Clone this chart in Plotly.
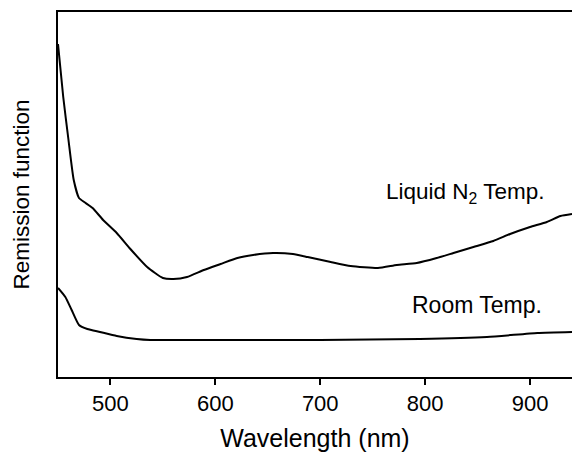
import plotly.graph_objects as go

# Wavelength grid (nm) and remission function (arbitrary units) for each sample
wl_ln2 = [450, 455, 460, 465, 470, 475, 483, 493, 506, 519, 535, 550, 560, 573,
          589, 605, 621, 636, 655, 674, 688, 710, 729, 755, 773, 792, 811, 827,
          846, 865, 881, 900, 916, 929, 940]
f_ln2 = [3.33, 2.80, 2.37, 1.97, 1.79, 1.75, 1.69, 1.57, 1.44, 1.28, 1.10, 0.99,
         0.98, 1.00, 1.07, 1.13, 1.19, 1.22, 1.24, 1.23, 1.20, 1.15, 1.11, 1.09,
         1.12, 1.14, 1.19, 1.24, 1.30, 1.36, 1.43, 1.50, 1.55, 1.61, 1.63]

wl_room = [450, 457, 463, 470, 478, 490, 506, 525, 538, 570, 614, 700, 795, 859,
           907, 940]
f_room = [0.89, 0.80, 0.67, 0.52, 0.48, 0.45, 0.41, 0.38, 0.37, 0.37, 0.37, 0.37,
          0.38, 0.40, 0.44, 0.45]

x_ticks = [500, 600, 700, 800, 900]

FONT = "Liberation Sans, Arial, sans-serif"

fig = go.Figure()
fig.add_trace(go.Scatter(x=wl_ln2, y=f_ln2, mode="lines",
                         line=dict(color="black", width=2, shape="spline", smoothing=0.5),
                         showlegend=False, hoverinfo="skip"))
fig.add_trace(go.Scatter(x=wl_room, y=f_room, mode="lines",
                         line=dict(color="black", width=2, shape="spline", smoothing=0.5),
                         showlegend=False, hoverinfo="skip"))

fig.add_annotation(x=838, y=1.84, xref="x", yref="y", showarrow=False,
                   text="Liquid N<sub>2</sub> Temp.", font=dict(family=FONT, size=22.5, color="black"))
fig.add_annotation(x=849, y=0.72, xref="x", yref="y", showarrow=False,
                   text="Room Temp.", font=dict(family=FONT, size=23, color="black"))

fig.update_layout(
    width=572, height=453,
    margin=dict(l=58, r=0, t=12, b=76),
    paper_bgcolor="white", plot_bgcolor="white",
    font=dict(family=FONT, color="black"),
    xaxis=dict(range=[450, 940], tickvals=x_ticks, ticks="outside", ticklen=6,
               tickwidth=2, tickcolor="black", showline=True, linecolor="black",
               linewidth=2, mirror=True, showgrid=False, zeroline=False,
               tickfont=dict(size=22, family=FONT),
               title=dict(text="Wavelength (nm)", font=dict(size=25, family=FONT), standoff=14)),
    yaxis=dict(range=[0, 3.65], showticklabels=False, ticks="", showline=True,
               linecolor="black", linewidth=2, showgrid=False, zeroline=False,
               title=dict(text="Remission function", font=dict(size=22.5, family=FONT), standoff=20)),
)

fig.write_html("out.html")
